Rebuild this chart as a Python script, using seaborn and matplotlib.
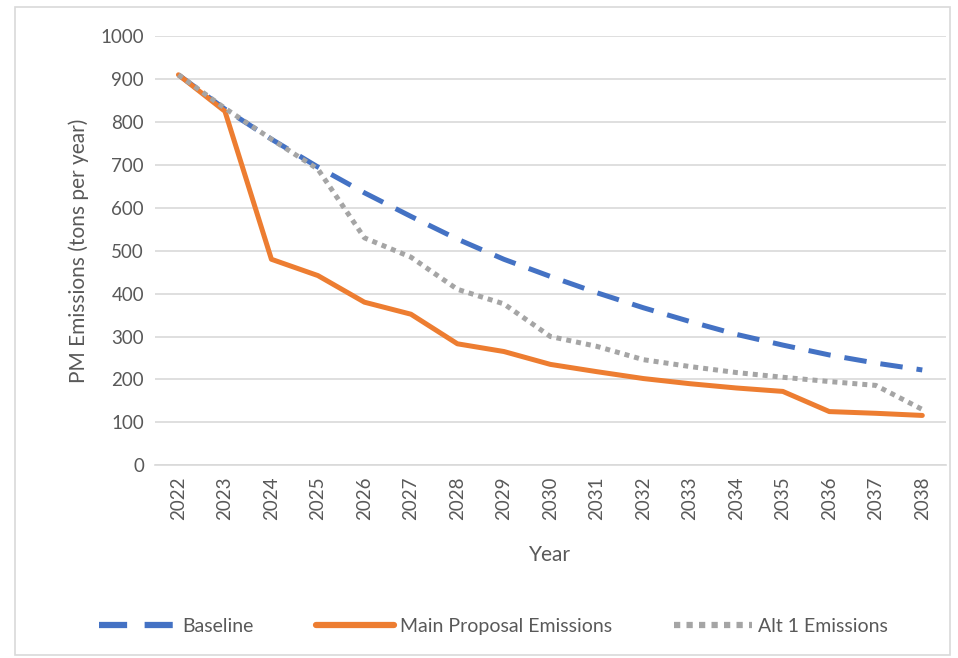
import pandas as pd
import seaborn as sns
import matplotlib.pyplot as plt
from matplotlib.patches import Rectangle

years = list(range(2022, 2039))
baseline = [910, 830, 760, 695, 635, 580, 527, 480, 440, 402, 367, 335, 305, 280, 257, 238, 222]
main_proposal = [910, 825, 480, 442, 380, 352, 283, 265, 235, 218, 202, 190, 180, 172, 125, 121, 116]
alt1 = [910, 832, 760, 690, 530, 485, 410, 376, 300, 277, 246, 230, 216, 205, 195, 186, 130]
series_names = ['Baseline', 'Main Proposal Emissions', 'Alt 1 Emissions']

df = pd.DataFrame({
    'Year': years * 3,
    'value': baseline + main_proposal + alt1,
    'series': [series_names[0]] * 17 + [series_names[1]] * 17 + [series_names[2]] * 17,
})

sns.set_style('white')
plt.rcParams['font.family'] = ['Lato', 'DejaVu Sans']

text_col = '#595959'
palette = {'Baseline': '#4472C4', 'Main Proposal Emissions': '#ED7D31', 'Alt 1 Emissions': '#A5A5A5'}
dashes = {'Baseline': (4.5, 2.8), 'Main Proposal Emissions': '', 'Alt 1 Emissions': (1, 1)}

fig = plt.figure(figsize=(9.58, 6.58), dpi=100)
ax = fig.add_axes([0.162, 0.293, 0.825, 0.652])

sns.lineplot(data=df, x='Year', y='value', hue='series', style='series',
             palette=palette, dashes=dashes, linewidth=3.6, ax=ax, legend=False)

ax.set_xlim(2021.5, 2038.5)
ax.set_ylim(0, 1000)
ax.set_yticks(range(0, 1001, 100))
ax.set_xticks(years)
ax.set_xticklabels([str(y) for y in years], rotation=90)
ax.grid(axis='y', color='#D9D9D9', linewidth=1.2)
ax.set_axisbelow(True)
for s in ['top', 'right', 'left']:
    ax.spines[s].set_visible(False)
ax.spines['bottom'].set_color('#D9D9D9')
ax.spines['bottom'].set_linewidth(1.2)
ax.tick_params(axis='both', length=0, labelsize=13.5, colors=text_col, pad=8)
ax.set_xlabel('Year', fontsize=15, color=text_col, labelpad=18)
ax.set_ylabel('PM Emissions (tons per year)', fontsize=15, color=text_col, labelpad=8)

handles = []
for name in series_names:
    ln, = ax.plot([], [], color=palette[name], linewidth=4.5)
    if dashes[name]:
        ln.set_dashes(dashes[name])
    handles.append(ln)
fig.legend(handles, series_names, loc='center', bbox_to_anchor=(0.515, 0.048), ncol=3,
           frameon=False, fontsize=14, labelcolor=text_col, handlelength=4,
           columnspacing=3.2, handletextpad=0.3)

fig.patches.append(Rectangle((0.016, 0.005), 0.976, 0.985, transform=fig.transFigure,
                             fill=False, edgecolor='#D9D9D9', linewidth=1.2))

fig.savefig('out.png', dpi=100)
